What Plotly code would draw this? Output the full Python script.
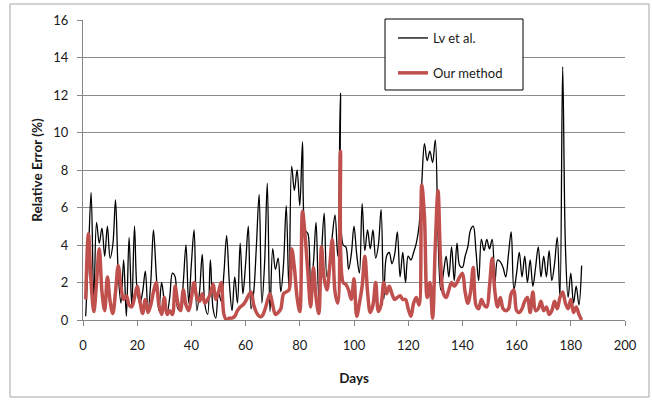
import plotly.graph_objects as go

days = list(range(1, 185))

lv_et_al = [
    0.2, 3.5, 6.8, 1.0, 5.2, 4.1, 4.9, 3.4, 5.0, 3.3,
    4.0, 6.4, 2.5, 0.9, 3.2, 0.2, 4.4, 0.7, 5.0, 1.5,
    0.9, 1.5, 2.6, 0.5, 2.0, 4.8, 2.5, 0.5, 2.0, 1.0,
    0.35, 1.2, 2.5, 2.3, 0.6, 0.5, 2.0, 4.0, 0.9, 3.0,
    4.8, 0.5, 1.5, 3.5, 0.8, 0.3, 3.2, 0.6, 0.1, 1.5,
    1.0, 2.5, 4.5, 2.0, 0.5, 2.3, 0.9, 4.1, 1.4, 3.0,
    5.0, 0.6, 1.5, 4.0, 6.7, 0.9, 3.0, 7.3, 0.45, 3.8,
    2.7, 3.3, 1.5, 3.0, 6.1, 1.6, 8.2, 6.9, 8.0, 6.1,
    9.5, 4.8, 4.6, 1.8, 3.0, 5.2, 1.2, 3.5, 5.7, 2.3,
    3.0, 4.5, 5.6, 3.4, 12.1, 4.0, 3.9, 2.7, 3.5, 5.0,
    3.5, 2.5, 6.2, 3.7, 4.8, 3.8, 4.8, 3.3, 4.0, 5.9,
    1.1, 3.4, 3.6, 3.0, 3.5, 4.7, 2.3, 3.6, 2.0, 3.4,
    3.2, 3.6, 4.1, 5.0, 7.3, 9.4, 8.5, 9.0, 8.4, 9.6,
    4.5, 1.6, 2.5, 3.4, 2.3, 3.9, 2.1, 4.1, 2.9, 2.8,
    3.4, 3.9, 4.8, 5.0, 3.7, 2.1, 4.3, 3.7, 4.3, 3.8,
    4.3, 2.0, 3.2, 3.1, 2.8, 2.3, 3.5, 4.7, 1.6, 2.5,
    3.6, 2.3, 3.4, 2.0, 3.2, 1.8, 2.8, 3.9, 2.3, 3.4,
    2.3, 3.7, 2.1, 3.0, 4.4, 1.2, 13.5, 4.0, 1.2, 2.5,
    0.9, 1.8, 0.8, 2.9,
]

our_method = [
    1.1, 4.6, 2.0, 0.45, 2.0, 3.8, 1.5, 0.5, 2.3, 1.0,
    0.35, 1.5, 2.9, 1.8, 1.1, 1.3, 0.8, 0.7, 1.2, 1.8,
    1.0, 0.35, 1.1, 0.4, 0.8, 1.5, 2.0, 0.8, 0.3, 1.2,
    0.3, 0.5, 0.3, 1.8, 0.9, 0.5, 1.6, 0.8, 0.5, 1.2,
    2.0, 1.2, 1.0, 1.4, 0.9, 1.1, 1.4, 1.9, 1.1, 1.5,
    2.0, 0.3, 0.0, 0.1, 0.1, 0.2, 0.5, 0.7, 0.8, 1.0,
    1.3, 1.5, 0.8, 0.4, 0.2, 0.2, 0.5, 1.0, 1.4, 0.8,
    0.3, 0.4, 0.6, 1.4, 1.5, 1.6, 3.8, 2.8, 1.2, 0.45,
    5.8, 4.4, 2.5, 0.7, 2.8, 1.2, 0.35, 3.9, 2.2, 1.6,
    2.8, 4.3, 1.5, 0.9, 9.0, 2.0, 1.9, 1.6, 1.1, 2.2,
    0.2, 0.9, 1.8, 3.4, 1.5, 0.4, 0.8, 2.0, 0.45, 0.8,
    2.0, 1.4, 1.8, 1.4, 1.1, 1.2, 1.3, 1.1, 1.1, 0.6,
    0.2, 0.9, 1.2, 0.8, 7.2, 5.5, 1.2, 2.0, 0.1, 4.0,
    6.9, 3.0, 1.4, 1.2, 1.6, 2.0, 1.8, 2.0, 2.3, 2.5,
    1.5, 0.9, 1.5, 2.8, 0.8, 0.6, 1.1, 0.8, 0.7, 1.8,
    3.3, 1.5, 0.7, 1.2, 0.6, 0.5, 0.6, 1.4, 1.6, 0.5,
    0.4, 0.6, 1.0, 1.2, 0.4, 1.5, 0.5, 0.6, 1.0, 0.5,
    0.7, 0.3, 0.5, 1.0, 0.6, 1.2, 1.5, 0.9, 0.6, 1.1,
    0.4, 0.7, 0.3, 0.0,
]

x_ticks = [0, 20, 40, 60, 80, 100, 120, 140, 160, 180, 200]
y_ticks = [0, 2, 4, 6, 8, 10, 12, 14, 16]

FONT = "Lato"
W, H = 652, 400
ML, MR, MT, MB = 83, 27, 20, 80
PW, PH = W - ML - MR, H - MT - MB

def px_x(p):
    return (p - ML) / PW

def px_y(p):
    return (H - MB - p) / PH

fig = go.Figure()
fig.add_trace(go.Scatter(
    x=days, y=lv_et_al, mode="lines", name="Lv et al.",
    line=dict(color="#000000", width=1.3, shape="spline", smoothing=1.0),
    legendgroup="a",
))
fig.add_trace(go.Scatter(
    x=days, y=our_method, mode="lines", name="Our method",
    line=dict(color="#C0504D", width=3.5, shape="spline", smoothing=1.0),
    legendgroup="b",
))

fig.update_layout(
    width=W, height=H,
    margin=dict(l=ML, r=MR, t=MT, b=MB),
    paper_bgcolor="white", plot_bgcolor="white",
    font=dict(family=FONT, size=13, color="#1a1a1a"),
    showlegend=True,
    legend=dict(
        x=px_x(393), y=px_y(23), xanchor="left", yanchor="top",
        bgcolor="rgba(0,0,0,0)", borderwidth=0,
        traceorder="grouped", tracegroupgap=15,
        font=dict(family=FONT, size=13, color="#1a1a1a"),
    ),
    xaxis=dict(
        range=[0, 200], tickvals=x_ticks, ticks="outside", ticklen=5,
        tickcolor="#868686", showline=True, linecolor="#868686", linewidth=1,
        showgrid=False, zeroline=False, ticklabelstandoff=8,
        title=dict(text="<b>Days</b>", font=dict(size=13.5), standoff=21),
    ),
    yaxis=dict(
        range=[0, 16], tickvals=y_ticks, ticks="outside", ticklen=5,
        tickcolor="#868686", showline=True, linecolor="#868686", linewidth=1,
        showgrid=True, gridcolor="#8c8c8c", gridwidth=1, zeroline=False,
        ticklabelstandoff=6,
        title=dict(text="<b>Relative Error (%)</b>", font=dict(size=13.5), standoff=7),
    ),
    shapes=[
        dict(type="rect", xref="paper", yref="paper",
             x0=px_x(10), x1=px_x(649), y0=px_y(397), y1=px_y(4),
             line=dict(color="#a6a6a6", width=1), fillcolor="rgba(0,0,0,0)",
             layer="below"),
        dict(type="rect", xref="paper", yref="paper",
             x0=px_x(385), x1=px_x(523), y0=px_y(90), y1=px_y(19),
             line=dict(color="#000000", width=1), fillcolor="white",
             layer="above"),
    ],
)

fig.write_html("out.html")
